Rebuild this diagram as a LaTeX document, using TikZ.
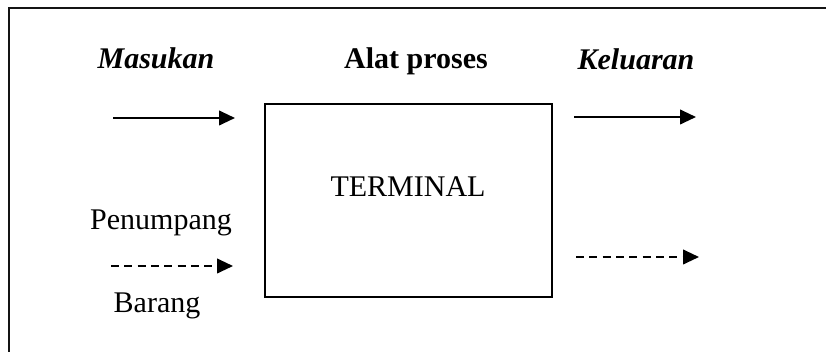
\documentclass[tikz,border=0pt]{standalone}
\usepackage{fontspec}
\setmainfont{Liberation Serif}
\usepackage{tikz}
\usetikzlibrary{arrows.meta}
\definecolor{framegray}{RGB}{20, 20, 20}

\begin{document}
\begin{tikzpicture}[x = 0.75pt, y = -0.75pt, >={Triangle[length=12pt, width=11pt]}, line width = 1.5pt, font = \fontsize{22.5}{27}\selectfont]
\useasboundingbox (0,0) rectangle (826,352);
\draw[framegray] (9,352) -- (9,8) -- (826,8);
\node[anchor = base] (masukan) at (156,69) {\textbf{\textit{Masukan}}};
\node[anchor = base] (alat) at (416,69) {\textbf{Alat proses}};
\node[anchor = base] (keluaran) at (636,70) {\textbf{\textit{Keluaran}}};
\node[draw, line width = 1.5pt, minimum width = 215pt, minimum height = 145pt, inner sep = 0pt] (box) at (408.5,200.5) {};
\node[anchor = base] (terminal) at (408,197) {TERMINAL};
\node[anchor = base] (penumpang) at (161,230) {Penumpang};
\node[anchor = base] (barang) at (157,313) {Barang};
\coordinate (in1) at (113,118);
\coordinate (in1end) at (235,118);
\coordinate (in2) at (111,266);
\coordinate (in2end) at (233,266);
\coordinate (out1) at (574,117);
\coordinate (out1end) at (696,117);
\coordinate (out2) at (576,257);
\coordinate (out2end) at (699,257);
\draw[->] (in1) -- (in1end);
\draw[->, dash pattern = on 6pt off 4pt] (in2) -- (in2end);
\draw[->] (out1) -- (out1end);
\draw[->, dash pattern = on 6pt off 4pt] (out2) -- (out2end);
\end{tikzpicture}
\end{document}
